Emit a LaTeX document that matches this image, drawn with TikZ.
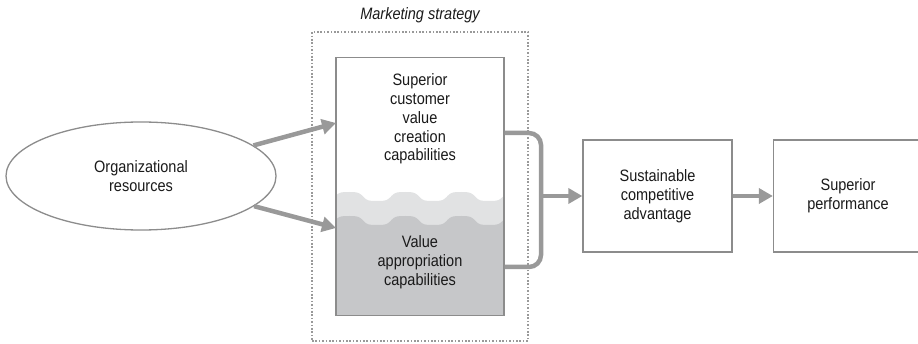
\documentclass[tikz,border=0pt]{standalone}
\usepackage{fontspec}
\setmainfont{Liberation Sans}[FakeStretch=0.88]
\usetikzlibrary{arrows.meta, shapes.geometric}
\definecolor{linegray}{HTML}{8C8C8C}
\definecolor{arrowgray}{HTML}{999999}
\definecolor{wavelight}{HTML}{E1E2E3}
\definecolor{wavedark}{HTML}{C6C7C9}
\definecolor{textdark}{HTML}{1A1A1A}
\begin{document}
\begin{tikzpicture}[
  x=1pt, y=-1pt,
  every node/.style={font=\fontsize{16.5}{18.8}\selectfont, text=textdark},
  block/.style={rectangle, draw=linegray, line width=1.3pt, minimum width=149pt, minimum height=112pt, align=center, inner sep=0pt},
  container/.style={rectangle, draw=arrowgray, dash pattern=on 1.6pt off 1.8pt, line width=1.6pt, minimum width=216pt, minimum height=309pt, inner sep=0pt},
  flow/.style={-{Triangle[length=14pt, width=15pt]}, draw=arrowgray, line width=4.5pt},
  bracket/.style={draw=arrowgray, line width=4.5pt, rounded corners=12pt}
]
\clip (0,0) rectangle (918,344);

% Marketing strategy container
\node[container] (strategy) at (420,186.5) {};
\node[font=\fontsize{16.5}{18}\itshape] (title) at (420,15) {Marketing strategy};

% Capabilities box with waves
\fill[wavelight] (336,315) -- plot[domain=336:504, samples=100] (\x, {196.5-4.5*tanh(2*cos(6.4286*(\x-349)))/tanh(2)}) -- (504,315) -- cycle;
\fill[wavedark] (336,315) -- plot[domain=336:504, samples=100] (\x, {220.5-4.5*tanh(2*cos(6.4286*(\x-349)))/tanh(2)}) -- (504,315) -- cycle;
\node[block, minimum width=168pt, minimum height=258pt] (cap) at (420,186.5) {};
\node[align=center] (creation) at (420,119) {Superior\\customer\\value\\creation\\capabilities};
\node[align=center] (appropriation) at (420,262) {Value\\appropriation\\capabilities};

% Resources
\node[ellipse, draw=linegray, line width=1.3pt, minimum width=270pt, minimum height=108pt, align=center] (res) at (141,176) {Organizational\\resources};

% Outcome boxes
\node[block] (adv) at (657.5,196) {Sustainable\\competitive\\advantage};
\node[block] (perf) at (848,196) {Superior\\performance};

% Arrows
\coordinate (in1) at (336,123);
\coordinate (in2) at (336,228);
\draw[flow] (res) -- (in1);
\draw[flow] (res) -- (in2);
\coordinate (brtop) at (541,133);
\coordinate (brbot) at (541,267);
\draw[bracket] (cap.east |- brtop) -- (brtop) -- (brbot) -- (cap.east |- brbot);
\coordinate (brmid) at (541,196);
\draw[flow] (brmid) -- (adv.west);
\draw[flow] (adv) -- (perf);

\end{tikzpicture}
\end{document}
